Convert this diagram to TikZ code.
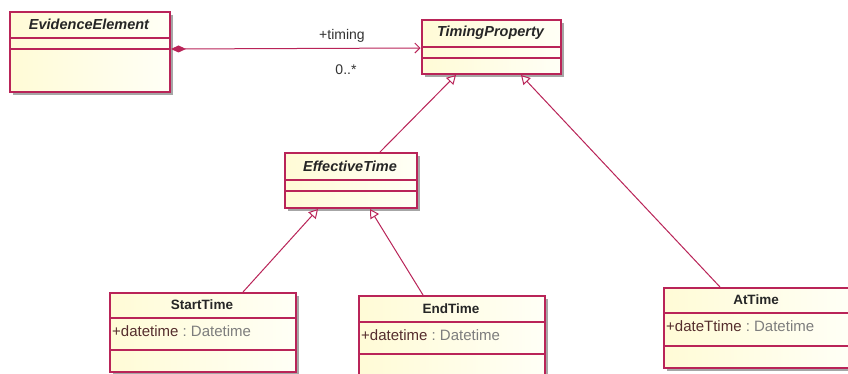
\documentclass[tikz,border=0pt]{standalone}
\usepackage{fontspec}
\setmainfont{Liberation Sans}
\usetikzlibrary{arrows.meta,calc,shadows}
\definecolor{umlborder}{RGB}{185,36,88}
\definecolor{umlfillL}{RGB}{255,251,214}
\definecolor{umlfillR}{RGB}{255,255,246}
\definecolor{attrname}{RGB}{85,45,45}
\definecolor{attrtype}{RGB}{125,125,125}
\tikzset{
  umlbox/.style={draw=umlborder, line width=1.5pt, rectangle, anchor=north west,
    inner sep=0pt, left color=umlfillL, right color=umlfillR,
    drop shadow={shadow xshift=3pt, shadow yshift=-3pt, fill=black!35, opacity=1}},
  comp/.style={draw=umlborder, line width=1.3pt},
  title/.style={font=\fontsize{14.5}{16}\selectfont\bfseries\itshape, text=black!85},
  ctitle/.style={font=\fontsize{13.5}{15}\selectfont\bfseries, text=black!85},
  attr/.style={font=\fontsize{15}{17}\selectfont, anchor=west, inner sep=0pt},
  lbl/.style={font=\fontsize{14}{16}\selectfont, text=black!80},
  conn/.style={draw=umlborder, line width=1pt},
  gen/.style={conn, -{Triangle[open, length=9pt, width=10pt, fill=white]}},
  compo/.style={conn, {Diamond[length=15pt, width=7pt]}-{Straight Barb[length=5pt, width=10pt]}}
}
\newcommand{\umlattr}[1]{\textcolor{attrname}{#1}\textcolor{attrtype}{\ :\ Datetime}}
\begin{document}
\begin{tikzpicture}[x=1pt, y=-1pt]
\useasboundingbox (0,0) rectangle (848,373);
\clip (0,0) rectangle (848,373);
\fill[white] (0,0) rectangle (848,373);

% EvidenceElement
\node[umlbox, minimum width=160pt, minimum height=80pt] (ee) at (9,11) {};
\draw[comp] ($(ee.north west)+(0,27)$) -- ($(ee.north east)+(0,27)$);
\draw[comp] ($(ee.north west)+(0,38)$) -- ($(ee.north east)+(0,38)$);
\node[title] (eet) at (89,24.5) {EvidenceElement};

% TimingProperty
\node[umlbox, minimum width=139pt, minimum height=54pt] (tp) at (421,19) {};
\draw[comp] ($(tp.north west)+(0,28)$) -- ($(tp.north east)+(0,28)$);
\draw[comp] ($(tp.north west)+(0,39)$) -- ($(tp.north east)+(0,39)$);
\node[title] (tpt) at (490.5,33) {TimingProperty};

% EffectiveTime
\node[umlbox, minimum width=132pt, minimum height=55pt] (eff) at (284,152) {};
\draw[comp] ($(eff.north west)+(0,28)$) -- ($(eff.north east)+(0,28)$);
\draw[comp] ($(eff.north west)+(0,39)$) -- ($(eff.north east)+(0,39)$);
\node[title] (efft) at (350,166) {EffectiveTime};

% StartTime
\node[umlbox, minimum width=186pt, minimum height=79pt] (st) at (109,292) {};
\draw[comp] ($(st.north west)+(0,26)$) -- ($(st.north east)+(0,26)$);
\draw[comp] ($(st.north west)+(0,58)$) -- ($(st.north east)+(0,58)$);
\node[ctitle] (stt) at (202,305) {StartTime};
\node[attr] (sta) at (112,331) {\umlattr{+datetime}};

% EndTime
\node[umlbox, minimum width=186pt, minimum height=95pt] (en) at (358,295) {};
\draw[comp] ($(en.north west)+(0,27)$) -- ($(en.north east)+(0,27)$);
\draw[comp] ($(en.north west)+(0,59)$) -- ($(en.north east)+(0,59)$);
\node[ctitle] (ent) at (451,308.5) {EndTime};
\node[attr] (ena) at (361,335) {\umlattr{+datetime}};

% AtTime
\node[umlbox, minimum width=186pt, minimum height=80pt] (at) at (663,287) {};
\draw[comp] ($(at.north west)+(0,26)$) -- ($(at.north east)+(0,26)$);
\draw[comp] ($(at.north west)+(0,59)$) -- ($(at.north east)+(0,59)$);
\node[ctitle] (att) at (756,300) {AtTime};
\node[attr] (ata) at (666,326) {\umlattr{+dateTtime}};

% composition
\draw[compo] ($(ee.north east)+(0.5,38)$) -- ($(tp.north west)+(-0.5,29)$);
\node[lbl] (l1) at (342,36) {+timing};
\node[lbl] (l2) at (346,70) {0..*};

% generalizations
\draw[gen] ($(eff.north west)+(96,0)$) -- ($(tp.south west)+(35,0.5)$);
\draw[gen] ($(at.north west)+(57,0)$) -- ($(tp.south west)+(100,0.5)$);
\draw[gen] ($(st.north west)+(134,0)$) -- ($(eff.south west)+(34,0.5)$);
\draw[gen] ($(en.north west)+(65,0)$) -- ($(eff.south west)+(86,0.5)$);
\end{tikzpicture}
\end{document}
